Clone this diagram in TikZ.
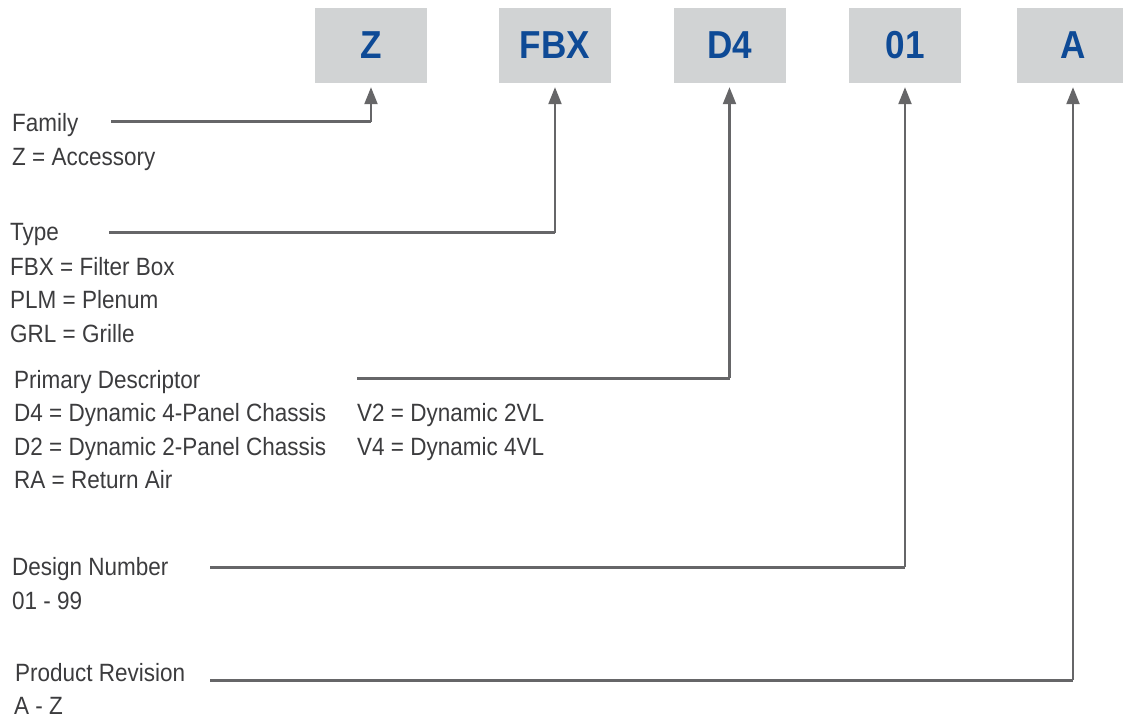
\documentclass[tikz,border=0pt]{standalone}
\usepackage{fontspec}
\setmainfont{Liberation Sans}[FakeStretch=0.9]
\usetikzlibrary{arrows.meta,calc}
\definecolor{boxgray}{RGB}{209,211,212}
\definecolor{codeblue}{RGB}{14,74,150}
\definecolor{linegray}{RGB}{102,102,104}
\definecolor{txtgray}{RGB}{60,60,62}
\begin{document}
\begin{tikzpicture}[x=1pt,y=-1pt,
  codebox/.style={fill=boxgray,minimum width=112pt,minimum height=75pt,inner sep=0pt,
     font=\fontsize{39}{42}\selectfont\bfseries,text=codeblue},
  lbl/.style={anchor=base west,inner sep=0pt,font=\fontsize{25}{28}\selectfont,text=txtgray},
  hline/.style={draw=linegray,line width=3pt},
  vline/.style={draw=linegray,line width=2.2pt,-{Triangle[length=17pt,width=13pt]},shorten >=4pt}]
\useasboundingbox (0,0) rectangle (1123,719);
\clip (0,0) rectangle (1123,719);
% code boxes
\node[codebox] (bZ)   at (371,45.5) {Z};
\node[codebox] (bFBX) at (555,45.5) {FBX};
\node[codebox] (bD4)  at (729.5,45.5) {D4};
\node[codebox] (b01)  at (905,45.5) {01};
\node[codebox] (bA)   at (1073,45.5) {A};
% labels
\node[lbl] (fam)  at (12,131.5) {Family};
\node[lbl] (fam1) at (12,165.5) {Z = Accessory};
\node[lbl] (typ)  at (10,240.5) {Type};
\node[lbl] (typ1) at (10,275) {FBX = Filter Box};
\node[lbl] (typ2) at (10,308.5) {PLM = Plenum};
\node[lbl] (typ3) at (10,342.5) {GRL = Grille};
\node[lbl] (pri)  at (14,388) {Primary Descriptor};
\node[lbl] (pri1) at (14,421.5) {D4 = Dynamic 4-Panel Chassis};
\node[lbl] (pri2) at (14,455.5) {D2 = Dynamic 2-Panel Chassis};
\node[lbl] (pri3) at (14,488.5) {RA = Return Air};
\node[lbl] (pri4) at (357,421.5) {V2 = Dynamic 2VL};
\node[lbl] (pri5) at (357,455.5) {V4 = Dynamic 4VL};
\node[lbl] (des)  at (12,575) {Design Number};
\node[lbl] (des1) at (12,609) {01 - 99};
\node[lbl] (rev)  at (15,681.5) {Product Revision};
\node[lbl] (rev1) at (14,714) {A - Z};
% line start points
\coordinate (sFam) at (111,122);
\coordinate (sTyp) at (109,233);
\coordinate (sPri) at (357,378);
\coordinate (sDes) at (210,567);
\coordinate (sRev) at (210,680);
% connectors
\draw[hline] (sFam) -- (sFam -| bZ.south);
\draw[vline] (sFam -| bZ.south) -- (bZ.south);
\draw[hline] (sTyp) -- (sTyp -| bFBX.south);
\draw[vline] (sTyp -| bFBX.south) -- (bFBX.south);
\draw[hline] (sPri) -- (sPri -| bD4.south);
\draw[vline] (sPri -| bD4.south) -- (bD4.south);
\draw[hline] (sDes) -- (sDes -| b01.south);
\draw[vline] (sDes -| b01.south) -- (b01.south);
\draw[hline] (sRev) -- (sRev -| bA.south);
\draw[vline] (sRev -| bA.south) -- (bA.south);
\end{tikzpicture}
\end{document}
